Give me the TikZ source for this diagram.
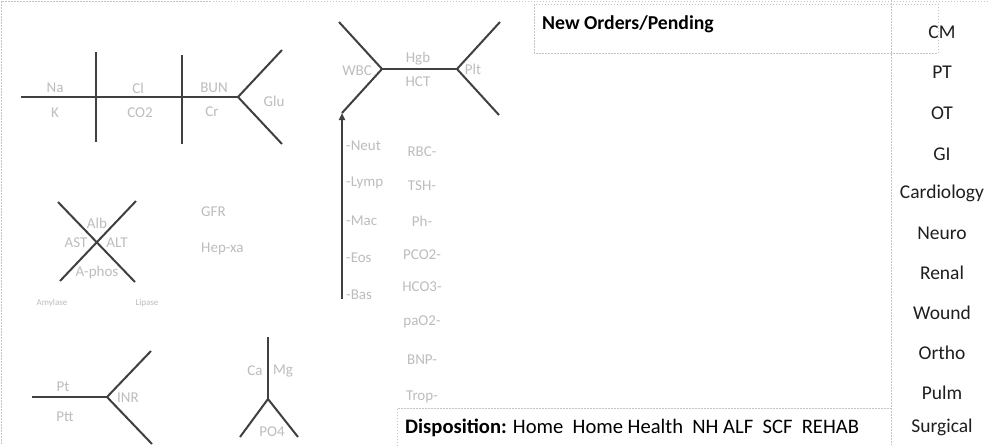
\documentclass[tikz,border=0pt]{standalone}
\usepackage{fontspec}
\setmainfont{Carlito}
\usetikzlibrary{arrows.meta}
\definecolor{lnc}{HTML}{404040}
\definecolor{labc}{HTML}{BDBDBD}
\definecolor{dotc}{HTML}{C4C4C4}
\begin{document}
\begin{tikzpicture}[x=1pt,y=-1pt,
  bone/.style={draw=lnc, line width=2pt},
  lab/.style={text=labc, font=\fontsize{15}{15}\selectfont, inner sep=0pt},
  tiny/.style={text=labc, font=\fontsize{9}{9}\selectfont, inner sep=0pt},
  side/.style={text=black!88, font=\fontsize{19.5}{19.5}\selectfont, inner sep=0pt},
  frame/.style={draw=dotc, dash pattern=on 1.5pt off 1.5pt, line width=0.7pt}]
\useasboundingbox (0,0) rectangle (988,445);
\fill[white] (0,0) rectangle (988,445);
% dotted frames
\coordinate (ftl) at (1,1); \coordinate (ftr) at (988,1); \coordinate (fbl) at (1,445);
\draw[frame] (ftr) -- (ftl) -- (fbl);
\coordinate (vt) at (891,0); \coordinate (vb) at (891,445);
\draw[frame] (vt) -- (vb);
\coordinate (no1) at (534,4); \coordinate (no2) at (938,53);
\draw[frame] (no1) rectangle (no2);
\coordinate (d1) at (397,446); \coordinate (d2) at (397,408); \coordinate (d3) at (891,408);
\draw[frame] (d1) -- (d2) -- (d3);
\node[anchor=west, inner sep=0pt, font=\fontsize{19.7}{19.7}\selectfont\bfseries] (neworders) at (542,24) {New Orders/Pending};
\node[anchor=west, inner sep=0pt, font=\fontsize{20.6}{20.6}\selectfont] (dispo) at (405,428) {\textbf{Disposition:} Home\ \ Home Health\ \ NH ALF\ \ SCF\ \ REHAB};
% right column
\foreach \t/\y [count=\i] in {CM/32, PT/72, OT/113, GI/154, Cardiology/193, Neuro/233, Renal/273, Wound/313, Ortho/353, Pulm/393, Surgical/427}
  \node[side] (svc\i) at (942,\y) {\t};
% BMP
\coordinate (b0) at (21,97); \coordinate (b1) at (238,97);
\coordinate (v1t) at (96,52); \coordinate (v1b) at (96,142);
\coordinate (v2t) at (182,55); \coordinate (v2b) at (182,144);
\coordinate (g1) at (282,50); \coordinate (g2) at (282,144);
\draw[bone] (b0) -- (b1);
\draw[bone] (v1t) -- (v1b);
\draw[bone] (v2t) -- (v2b);
\draw[bone] (g1) -- (b1) -- (g2);
\node[lab] (na) at (55,88) {Na};
\node[lab] (k) at (55,113) {K};
\node[lab] (cl) at (138,88) {Cl};
\node[lab] (co2) at (140,113) {CO2};
\node[lab] (bun) at (214,88) {BUN};
\node[lab] (cr) at (212,112) {Cr};
\node[lab] (glu) at (274,101) {Glu};
% CBC
\coordinate (c1) at (382,69); \coordinate (c2) at (457,69);
\coordinate (cul) at (339,22); \coordinate (cll) at (342,113);
\coordinate (cur) at (500,22); \coordinate (clr) at (499,115);
\coordinate (ca) at (342,299);
\draw[bone] (cul) -- (c1) -- (cll);
\draw[bone] (c1) -- (c2);
\draw[bone] (cur) -- (c2) -- (clr);
\draw[bone, line width=1.8pt, -{Triangle[length=7pt,width=6pt]}] (ca) -- (cll);
\node[lab] (wbc) at (357,71) {WBC};
\node[lab] (hgb) at (418,59) {Hgb};
\node[lab] (hct) at (418,82) {HCT};
\node[lab] (plt) at (473,69) {Plt};
\foreach \t/\y [count=\i] in {-Neut/146, -Lymp/183, -Mac/221, -Eos/258, -Bas/295}
  \node[lab, anchor=west] (diff\i) at (346,\y) {\t};
\foreach \t/\y [count=\i] in {RBC-/152, TSH-/186, Ph-/221, PCO2-/255, HCO3-/287, paO2-/322, BNP-/360, Trop-/397}
  \node[lab] (misc\i) at (422,\y) {\t};
% Liver
\coordinate (x1a) at (58,202); \coordinate (x1b) at (135,282);
\coordinate (x2a) at (136,201); \coordinate (x2b) at (60,281);
\draw[bone] (x1a) -- (x1b);
\draw[bone] (x2a) -- (x2b);
\node[lab] (alb) at (97,223) {Alb};
\node[lab] (ast) at (76,243) {AST};
\node[lab] (alt) at (117,243) {ALT};
\node[lab] (aphos) at (97,272) {A-phos};
\node[tiny] (amy) at (52,303) {Amylase};
\node[tiny] (lip) at (147,303) {Lipase};
\node[lab, anchor=west] (gfr) at (201,212) {GFR};
\node[lab, anchor=west] (hep) at (201,249) {Hep-xa};
% Coag
\coordinate (p0) at (32,397); \coordinate (p1) at (107,397);
\coordinate (pu) at (151,351); \coordinate (pd) at (152,444);
\draw[bone] (p0) -- (p1);
\draw[bone] (pu) -- (p1) -- (pd);
\node[lab] (pt) at (63,387) {Pt};
\node[lab] (ptt) at (65,417) {Ptt};
\node[lab] (inr) at (128,398) {INR};
% Ca Mg PO4
\coordinate (m0) at (268,337); \coordinate (m1) at (268,399);
\coordinate (ml) at (240,437); \coordinate (mr) at (298,437);
\draw[bone] (m0) -- (m1);
\draw[bone] (ml) -- (m1) -- (mr);
\node[lab] (cac) at (255,371) {Ca};
\node[lab] (mg) at (283,371) {Mg};
\node[lab] (po4) at (272,432) {PO4};
\end{tikzpicture}
\end{document}
